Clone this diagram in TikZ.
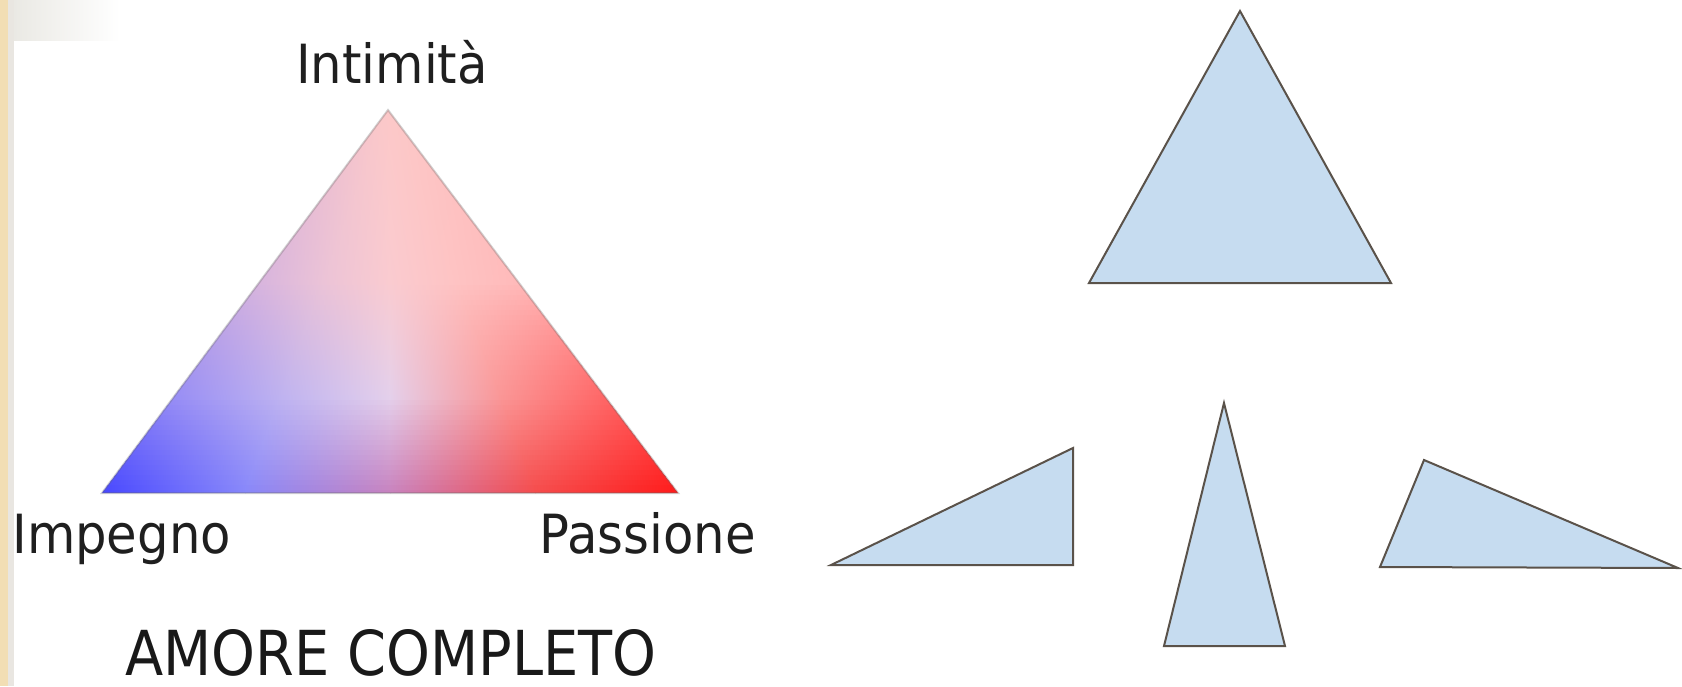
\documentclass[tikz,border=0pt]{standalone}
\usepackage{fontspec}
\setmainfont{DejaVu Sans}
\newfontfamily\labelfont{DejaVu Sans}[FakeStretch=0.92]
\newfontfamily\titlefont{DejaVu Sans}[FakeStretch=0.9]
\usetikzlibrary{calc}

\definecolor{paper}{RGB}{242,222,180}
\definecolor{edgegrey}{RGB}{233,230,225}
\definecolor{bandgrey}{RGB}{234,233,228}
\definecolor{shapefill}{RGB}{198,220,240}
\definecolor{shapeline}{RGB}{90,82,74}

% colour field of the love triangle: five columns (L, A, C, B, R), four rows (0 top .. 3 bottom)
\definecolor{tipL0}{RGB}{252,200,200}
\definecolor{tipA0}{RGB}{252,200,200}
\definecolor{tipC0}{RGB}{252,200,200}
\definecolor{tipB0}{RGB}{252,200,200}
\definecolor{tipR0}{RGB}{252,200,200}
\definecolor{tipL1}{RGB}{215,180,222}
\definecolor{tipA1}{RGB}{235,195,215}
\definecolor{tipC1}{RGB}{250,203,208}
\definecolor{tipB1}{RGB}{254,195,195}
\definecolor{tipR1}{RGB}{255,185,185}
\definecolor{tipL2}{RGB}{150,140,245}
\definecolor{tipA2}{RGB}{190,178,240}
\definecolor{tipC2}{RGB}{228,208,235}
\definecolor{tipB2}{RGB}{250,150,150}
\definecolor{tipR2}{RGB}{255,100,100}
\definecolor{tipL3}{RGB}{70,70,255}
\definecolor{tipA3}{RGB}{135,135,250}
\definecolor{tipC3}{RGB}{200,130,190}
\definecolor{tipB3}{RGB}{245,75,75}
\definecolor{tipR3}{RGB}{255,25,25}

\begin{document}
\begin{tikzpicture}[
    x=0.5pt, y=-0.5pt,
    label/.style={font=\labelfont\fontsize{27}{31}\selectfont, text=black!88, inner sep=0pt},
    title/.style={font=\titlefont\fontsize{31}{36}\selectfont, text=black!90, inner sep=0pt, text depth=0pt},
    shapetri/.style={fill=shapefill, draw=shapeline, line width=1pt, line join=miter}
]
\useasboundingbox (0,0) rectangle (1682,686);

% Background strip
\fill[paper] (0,0) rectangle (8,686);
\fill[edgegrey] (8,0) rectangle (14,686);
\shade[left color=bandgrey, right color=white] (14,0) rectangle (120,40);

% Colour triangle
\coordinate (top) at (388,110);
\coordinate (left) at (102,493);
\coordinate (right) at (678,493);
\begin{scope}
\clip (top) -- (left) -- (right) -- cycle;
\foreach \i in {0,...,76} {
  \pgfmathsetmacro\ya{110+\i*5}
  \pgfmathsetmacro\yb{\ya+6}
  \pgfmathsetmacro\rowt{(\i*5+2.5)/383}
  \pgfmathsetmacro\tb{min(1,(\i*5+6)/383)}
  \pgfmathsetmacro\pc{100*min(1,\rowt/0.45)}
  \pgfmathsetmacro\pb{100*max(0,min(1,(\rowt-0.45)/0.3))}
  \pgfmathsetmacro\pa{100*max(0,(\rowt-0.75)/0.25)}
  \pgfmathsetmacro\xl{388-286*\tb-2}
  \pgfmathsetmacro\xr{388+290*\tb+2}
  \pgfmathsetmacro\xp{\xl+(\xr-\xl)/4}
  \pgfmathsetmacro\xm{\xl+(\xr-\xl)/2}
  \pgfmathsetmacro\xq{\xl+3*(\xr-\xl)/4}
  \colorlet{rowL}{tipL3!\pa!tipL2!\pb!tipL1!\pc!tipL0}
  \colorlet{rowA}{tipA3!\pa!tipA2!\pb!tipA1!\pc!tipA0}
  \colorlet{rowC}{tipC3!\pa!tipC2!\pb!tipC1!\pc!tipC0}
  \colorlet{rowB}{tipB3!\pa!tipB2!\pb!tipB1!\pc!tipB0}
  \colorlet{rowR}{tipR3!\pa!tipR2!\pb!tipR1!\pc!tipR0}
  \shade[left color=rowL, right color=rowA] (\xl,\ya) rectangle (\xp+1,\yb);
  \shade[left color=rowA, right color=rowC] (\xp,\ya) rectangle (\xm+1,\yb);
  \shade[left color=rowC, right color=rowB] (\xm,\ya) rectangle (\xq+1,\yb);
  \shade[left color=rowB, right color=rowR] (\xq,\ya) rectangle (\xr,\yb);
}
\end{scope}
\draw[black!60, draw opacity=0.3, line width=1pt] (top) -- (left) -- (right) -- cycle;

% Labels
\node[label, anchor=base] (intimita) at (392,83) {Intimità};
\node[label, anchor=base west] (impegno) at (12,553) {Impegno};
\node[label, anchor=base east] (passione) at (756,553) {Passione};
\node[title, anchor=base] (amore) at (391,675) {AMORE COMPLETO};

% Triangles
\filldraw[shapetri] (1240,11) -- (1089,283) -- (1391,283) -- cycle;
\filldraw[shapetri] (831,565) -- (1073,448) -- (1073,565) -- cycle;
\filldraw[shapetri] (1224,403) -- (1164,646) -- (1285,646) -- cycle;
\filldraw[shapetri] (1424,460) -- (1380,567) -- (1678,568) -- cycle;

\end{tikzpicture}
\end{document}
